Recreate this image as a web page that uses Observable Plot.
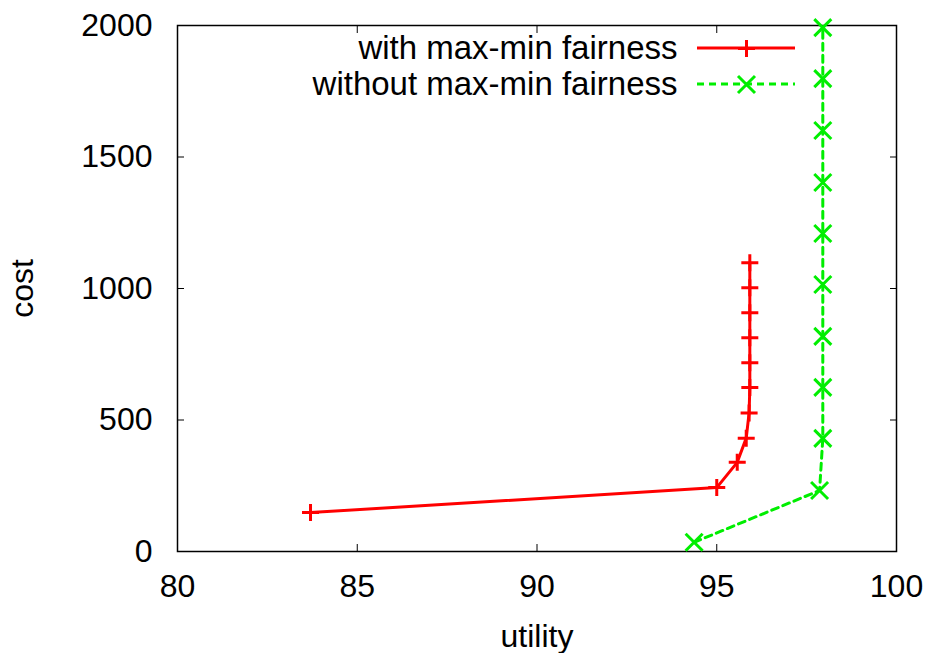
<!DOCTYPE html>
<html>
<head>
<meta charset="utf-8">
<script src="https://cdn.jsdelivr.net/npm/d3@7"></script>
<script src="https://cdn.jsdelivr.net/npm/@observablehq/plot@0.6"></script>
<style>
  html, body { margin: 0; padding: 0; background: white; }
  #chart svg { display: block; }
</style>
</head>
<body>
<div id="chart"></div>
<script>
// ---- data ----
const seriesNames = ["with max-min fairness", "without max-min fairness"];
const withUtility = [83.7, 95.0, 95.57, 95.82, 95.9, 95.92, 95.92, 95.92, 95.92, 95.92, 95.92];
const withCost    = [148, 243, 339, 431, 527, 624, 718, 813, 908, 1003, 1098];
const withoutUtility = [94.37, 97.86, 97.95, 97.95, 97.95, 97.95, 97.95, 97.95, 97.95, 97.95, 97.95];
const withoutCost    = [35, 232, 430, 624, 818, 1015, 1209, 1403, 1601, 1798, 1992];
const xTicks = [80, 85, 90, 95, 100];
const yTicks = [0, 500, 1000, 1500, 2000];
const xLabel = "utility";
const yLabel = "cost";

const withData = withUtility.map((u, i) => ({utility: u, cost: withCost[i]}));
const withoutData = withoutUtility.map((u, i) => ({utility: u, cost: withoutCost[i]}));

const RED = "#ff0000", GREEN = "#00ee00";

// stroke-only symbols whose half-extent equals the dot radius
const plusSym = {draw(ctx, size) { const r = Math.sqrt(size / Math.PI); ctx.moveTo(-r, 0); ctx.lineTo(r, 0); ctx.moveTo(0, -r); ctx.lineTo(0, r); }};
const timesSym = {draw(ctx, size) { const r = Math.sqrt(size / Math.PI); ctx.moveTo(-r, -r); ctx.lineTo(r, r); ctx.moveTo(-r, r); ctx.lineTo(r, -r); }};

const font = "'Liberation Sans', Arial, Helvetica, sans-serif";
const fmt = d => String(d);

const chart = Plot.plot({
  width: 931,
  height: 653,
  marginLeft: 177,
  marginRight: 35,
  marginTop: 25,
  marginBottom: 102,
  style: {fontFamily: font, fontSize: "32px", background: "white", color: "black", overflow: "visible"},
  x: {domain: [80, 100]},
  y: {domain: [0, 2000]},
  marks: [
    Plot.axisX({anchor: "bottom", ticks: xTicks, tickSize: 0, tickPadding: 23, fontSize: 32, tickFormat: fmt, label: null}),
    Plot.axisX({anchor: "bottom", ticks: xTicks, tickSize: -7, tickFormat: () => "", label: null, strokeWidth: 1}),
    Plot.axisX({anchor: "top", ticks: xTicks, tickSize: -7, tickFormat: () => "", label: null, strokeWidth: 1}),
    Plot.axisY({anchor: "left", ticks: yTicks, tickSize: 0, tickPadding: 25, fontSize: 32, tickFormat: fmt, label: null}),
    Plot.axisY({anchor: "left", ticks: yTicks, tickSize: -7, tickFormat: () => "", label: null, strokeWidth: 1}),
    Plot.axisY({anchor: "right", ticks: yTicks, tickSize: -7, tickFormat: () => "", label: null, strokeWidth: 1}),
    Plot.frame({stroke: "black", strokeWidth: 1.5}),
    Plot.line(withData, {x: "utility", y: "cost", stroke: RED, strokeWidth: 3}),
    Plot.dot(withData, {x: "utility", y: "cost", symbol: plusSym, r: 8.5, fill: "none", stroke: RED, strokeWidth: 3}),
    Plot.line(withoutData, {x: "utility", y: "cost", stroke: GREEN, strokeWidth: 3, strokeDasharray: "7,5"}),
    Plot.dot(withoutData, {x: "utility", y: "cost", symbol: timesSym, r: 8.5, fill: "none", stroke: GREEN, strokeWidth: 3}),
    Plot.text([xLabel], {frameAnchor: "bottom", text: d => d, dy: 85, fontSize: 32, lineAnchor: "middle", textAnchor: "middle"}),
    Plot.text([yLabel], {frameAnchor: "left", text: d => d, dx: -155, rotate: -90, fontSize: 32, lineAnchor: "middle", textAnchor: "middle"}),
    // legend
    Plot.text([seriesNames[0]], {frameAnchor: "top-left", text: d => d, dx: 500, dy: 23, textAnchor: "end", lineAnchor: "middle", fontSize: 33}),
    Plot.text([seriesNames[1]], {frameAnchor: "top-left", text: d => d, dx: 500, dy: 59, textAnchor: "end", lineAnchor: "middle", fontSize: 33}),
    Plot.dot([0], {frameAnchor: "top-left", dx: 569, dy: 23, symbol: plusSym, r: 8.5, fill: "none", stroke: RED, strokeWidth: 3}),
    Plot.dot([0], {frameAnchor: "top-left", dx: 569, dy: 59, symbol: timesSym, r: 8.5, fill: "none", stroke: GREEN, strokeWidth: 3})
  ]
});

// legend sample lines
const svg = d3.select(chart);
svg.append("line").attr("x1", 697).attr("x2", 795).attr("y1", 48).attr("y2", 48)
  .attr("stroke", RED).attr("stroke-width", 3);
svg.append("line").attr("x1", 697).attr("x2", 795).attr("y1", 84).attr("y2", 84)
  .attr("stroke", GREEN).attr("stroke-width", 3).attr("stroke-dasharray", "7,5");

document.getElementById("chart").appendChild(chart);
</script>
</body>
</html>
